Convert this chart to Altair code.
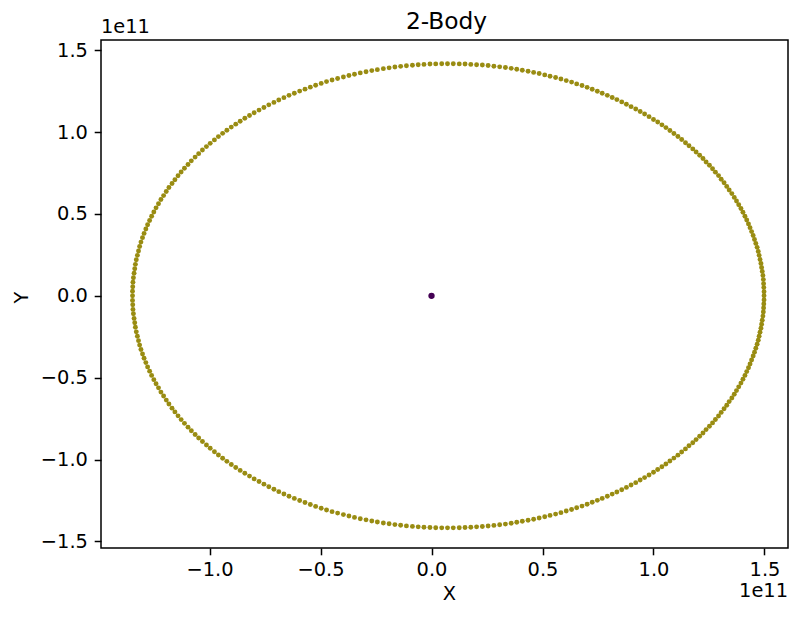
import altair as alt
import pandas as pd

# Orbit of the light body, in units of 1e11 (upper half, from x max to x min)
upper_x = [
    1.498, 1.498, 1.497, 1.496, 1.495, 1.493, 1.490, 1.487, 1.484, 1.480,
    1.476, 1.472, 1.467, 1.461, 1.455, 1.449, 1.442, 1.435, 1.428, 1.420,
    1.412, 1.403, 1.394, 1.384, 1.374, 1.364, 1.353, 1.341, 1.330, 1.318,
    1.305, 1.293, 1.279, 1.266, 1.252, 1.237, 1.223, 1.208, 1.192, 1.177,
    1.160, 1.144, 1.127, 1.110, 1.092, 1.074, 1.056, 1.038, 1.019, 1.000,
    0.980, 0.960, 0.940, 0.920, 0.899, 0.878, 0.857, 0.835, 0.814, 0.792,
    0.769, 0.747, 0.724, 0.701, 0.678, 0.654, 0.631, 0.607, 0.583, 0.559,
    0.534, 0.510, 0.485, 0.460, 0.435, 0.409, 0.384, 0.359, 0.333, 0.307,
    0.281, 0.255, 0.229, 0.203, 0.177, 0.151, 0.125, 0.098, 0.072, 0.046,
    0.019, -0.007, -0.034, -0.060, -0.086, -0.113, -0.139, -0.165, -0.191, -0.217,
    -0.244, -0.269, -0.295, -0.321, -0.347, -0.372, -0.397, -0.423, -0.448, -0.473,
    -0.497, -0.522, -0.546, -0.570, -0.594, -0.618, -0.642, -0.665, -0.688, -0.710,
    -0.733, -0.755, -0.777, -0.799, -0.820, -0.841, -0.862, -0.882, -0.902, -0.922,
    -0.941, -0.960, -0.978, -0.997, -1.014, -1.032, -1.049, -1.065, -1.082, -1.097,
    -1.113, -1.128, -1.142, -1.156, -1.169, -1.183, -1.195, -1.207, -1.219, -1.230,
    -1.241, -1.251, -1.261, -1.270, -1.279, -1.287, -1.295, -1.302, -1.309, -1.315,
    -1.320, -1.325, -1.330, -1.334, -1.337, -1.340, -1.343, -1.345, -1.346, -1.347,
    -1.347,
]
upper_y = [
    0.000, 0.025, 0.050, 0.074, 0.099, 0.124, 0.149, 0.173, 0.198, 0.222,
    0.247, 0.271, 0.296, 0.320, 0.344, 0.368, 0.392, 0.416, 0.439, 0.463,
    0.486, 0.510, 0.533, 0.556, 0.579, 0.601, 0.624, 0.646, 0.668, 0.690,
    0.712, 0.734, 0.755, 0.776, 0.797, 0.817, 0.838, 0.858, 0.878, 0.897,
    0.916, 0.935, 0.954, 0.973, 0.991, 1.009, 1.027, 1.044, 1.061, 1.077,
    1.094, 1.110, 1.125, 1.141, 1.155, 1.170, 1.184, 1.198, 1.211, 1.224,
    1.237, 1.249, 1.261, 1.273, 1.284, 1.294, 1.305, 1.314, 1.324, 1.333,
    1.341, 1.349, 1.357, 1.364, 1.371, 1.377, 1.383, 1.389, 1.394, 1.398,
    1.402, 1.406, 1.409, 1.411, 1.413, 1.415, 1.416, 1.417, 1.417, 1.417,
    1.416, 1.415, 1.413, 1.411, 1.408, 1.405, 1.401, 1.397, 1.392, 1.387,
    1.381, 1.375, 1.368, 1.361, 1.353, 1.345, 1.336, 1.327, 1.318, 1.308,
    1.297, 1.286, 1.274, 1.262, 1.250, 1.237, 1.224, 1.210, 1.196, 1.181,
    1.166, 1.150, 1.134, 1.118, 1.101, 1.084, 1.066, 1.048, 1.030, 1.011,
    0.992, 0.972, 0.952, 0.931, 0.911, 0.890, 0.868, 0.847, 0.824, 0.802,
    0.779, 0.756, 0.733, 0.709, 0.686, 0.661, 0.637, 0.612, 0.588, 0.562,
    0.537, 0.512, 0.486, 0.460, 0.434, 0.408, 0.381, 0.355, 0.328, 0.301,
    0.274, 0.247, 0.220, 0.192, 0.165, 0.138, 0.110, 0.083, 0.055, 0.028,
    0.000,
]
# Lower half, from x min back to x max
lower_x = [
    -1.347, -1.346, -1.345, -1.343, -1.340, -1.337, -1.334, -1.330, -1.325, -1.320,
    -1.315, -1.309, -1.302, -1.295, -1.287, -1.279, -1.270, -1.261, -1.251, -1.241,
    -1.230, -1.219, -1.207, -1.195, -1.183, -1.169, -1.156, -1.142, -1.128, -1.113,
    -1.097, -1.082, -1.065, -1.049, -1.032, -1.014, -0.997, -0.978, -0.960, -0.941,
    -0.922, -0.902, -0.882, -0.862, -0.841, -0.820, -0.799, -0.777, -0.755, -0.733,
    -0.710, -0.688, -0.665, -0.642, -0.618, -0.594, -0.570, -0.546, -0.522, -0.497,
    -0.473, -0.448, -0.423, -0.397, -0.372, -0.347, -0.321, -0.295, -0.269, -0.244,
    -0.217, -0.191, -0.165, -0.139, -0.113, -0.086, -0.060, -0.034, -0.007, 0.019,
    0.046, 0.072, 0.098, 0.125, 0.151, 0.177, 0.203, 0.229, 0.255, 0.281,
    0.307, 0.333, 0.359, 0.384, 0.409, 0.435, 0.460, 0.485, 0.510, 0.534,
    0.559, 0.583, 0.607, 0.631, 0.654, 0.678, 0.701, 0.724, 0.747, 0.769,
    0.792, 0.814, 0.835, 0.857, 0.878, 0.899, 0.920, 0.940, 0.960, 0.980,
    1.000, 1.019, 1.038, 1.056, 1.074, 1.092, 1.110, 1.127, 1.144, 1.160,
    1.177, 1.192, 1.208, 1.223, 1.237, 1.252, 1.266, 1.279, 1.293, 1.305,
    1.318, 1.330, 1.341, 1.353, 1.364, 1.374, 1.384, 1.394, 1.403, 1.412,
    1.420, 1.428, 1.435, 1.442, 1.449, 1.455, 1.461, 1.467, 1.472, 1.476,
    1.480, 1.484, 1.487, 1.490, 1.493, 1.495, 1.496, 1.497, 1.498,
]
lower_y = [
    -0.028, -0.055, -0.083, -0.110, -0.138, -0.165, -0.192, -0.220, -0.247, -0.274,
    -0.301, -0.328, -0.355, -0.381, -0.408, -0.434, -0.460, -0.486, -0.512, -0.537,
    -0.562, -0.588, -0.612, -0.637, -0.661, -0.686, -0.709, -0.733, -0.756, -0.779,
    -0.802, -0.824, -0.847, -0.868, -0.890, -0.911, -0.931, -0.952, -0.972, -0.992,
    -1.011, -1.030, -1.048, -1.066, -1.084, -1.101, -1.118, -1.134, -1.150, -1.166,
    -1.181, -1.196, -1.210, -1.224, -1.237, -1.250, -1.262, -1.274, -1.286, -1.297,
    -1.308, -1.318, -1.327, -1.336, -1.345, -1.353, -1.361, -1.368, -1.375, -1.381,
    -1.387, -1.392, -1.397, -1.401, -1.405, -1.408, -1.411, -1.413, -1.415, -1.416,
    -1.417, -1.417, -1.417, -1.416, -1.415, -1.413, -1.411, -1.409, -1.406, -1.402,
    -1.398, -1.394, -1.389, -1.383, -1.377, -1.371, -1.364, -1.357, -1.349, -1.341,
    -1.333, -1.324, -1.314, -1.305, -1.294, -1.284, -1.273, -1.261, -1.249, -1.237,
    -1.224, -1.211, -1.198, -1.184, -1.170, -1.155, -1.141, -1.125, -1.110, -1.094,
    -1.077, -1.061, -1.044, -1.027, -1.009, -0.991, -0.973, -0.954, -0.935, -0.916,
    -0.897, -0.878, -0.858, -0.838, -0.817, -0.797, -0.776, -0.755, -0.734, -0.712,
    -0.690, -0.668, -0.646, -0.624, -0.601, -0.579, -0.556, -0.533, -0.510, -0.486,
    -0.463, -0.439, -0.416, -0.392, -0.368, -0.344, -0.320, -0.296, -0.271, -0.247,
    -0.222, -0.198, -0.173, -0.149, -0.124, -0.099, -0.074, -0.050, -0.025,
]
# The heavy body (stays at the origin)
sun_x = [0.0]
sun_y = [0.0]

x_ticks = [-1.0, -0.5, 0.0, 0.5, 1.0, 1.5]
y_ticks = [-1.5, -1.0, -0.5, 0.0, 0.5, 1.0, 1.5]
offset_label = ["1e11"]
title_text = ["2-Body"]

FONT = "DejaVu Sans"
PLANET_COLOR = "#998c12"
SUN_COLOR = "#440154"

orbit_x = upper_x + lower_x
orbit_y = upper_y + lower_y
points = pd.DataFrame({
    "x": orbit_x + sun_x,
    "y": orbit_y + sun_y,
    "body": ["planet"] * len(orbit_x) + ["sun"] * len(sun_x),
})

W, H = 687, 508

pts = alt.Chart(points).mark_circle(opacity=1, strokeWidth=0).encode(
    x=alt.X("x:Q",
            scale=alt.Scale(domain=[-1.489, 1.606], nice=False, zero=False),
            axis=alt.Axis(values=x_ticks, format=".1f", title="X",
                          grid=False, domain=False,
                          tickSize=6.8, tickWidth=1.5, tickColor="black",
                          labelFont=FONT, labelFontSize=19.4, labelColor="black",
                          labelBaseline="alphabetic", labelPadding=20.2,
                          labelFlush=False, labelOverlap=False,
                          titleFont=FONT, titleFontSize=19.4, titleFontWeight="normal",
                          titleColor="black", titleBaseline="alphabetic",
                          titleX=348, titleY=51)),
    y=alt.Y("y:Q",
            scale=alt.Scale(domain=[-1.54, 1.562], nice=False, zero=False),
            axis=alt.Axis(values=y_ticks, format=".1f", title="Y",
                          grid=False, domain=False,
                          tickSize=6.8, tickWidth=1.5, tickColor="black",
                          labelFont=FONT, labelFontSize=19.4, labelColor="black",
                          labelBaseline="middle", labelPadding=6.8,
                          labelFlush=False, labelOverlap=False,
                          titleFont=FONT, titleFontSize=19.4, titleFontWeight="normal",
                          titleColor="black", titleBaseline="alphabetic",
                          titleAngle=270, titleX=-74, titleY=257)),
    color=alt.Color("body:N",
                    scale=alt.Scale(domain=["planet", "sun"],
                                    range=[PLANET_COLOR, SUN_COLOR]),
                    legend=None),
    size=alt.Size("body:N",
                  scale=alt.Scale(domain=["planet", "sun"], range=[24, 40]),
                  legend=None),
    order=alt.Order("body:N"),
)

lab_df = pd.DataFrame({"t": offset_label})
y_offset_text = alt.Chart(lab_df).mark_text(
    align="left", baseline="alphabetic", font=FONT, fontSize=19.4, color="black"
).encode(x=alt.value(0), y=alt.value(-7), text="t:N")
x_offset_text = alt.Chart(lab_df).mark_text(
    align="right", baseline="alphabetic", font=FONT, fontSize=19.4, color="black"
).encode(x=alt.value(W), y=alt.value(H + 49), text="t:N")
title_mark = alt.Chart(pd.DataFrame({"t": title_text})).mark_text(
    align="center", baseline="alphabetic", font=FONT, fontSize=23.3, color="black"
).encode(x=alt.value(345.5), y=alt.value(-11), text="t:N")

chart = alt.layer(pts, y_offset_text, x_offset_text, title_mark).properties(
    width=W, height=H,
    autosize=alt.AutoSizeParams(type="none"),
    padding={"left": 93, "top": 32, "right": 1, "bottom": 56},
).configure(background="white").configure_view(stroke="black", strokeWidth=1.5)

chart.save("out.html", embed_options={"renderer": "svg", "actions": False})
